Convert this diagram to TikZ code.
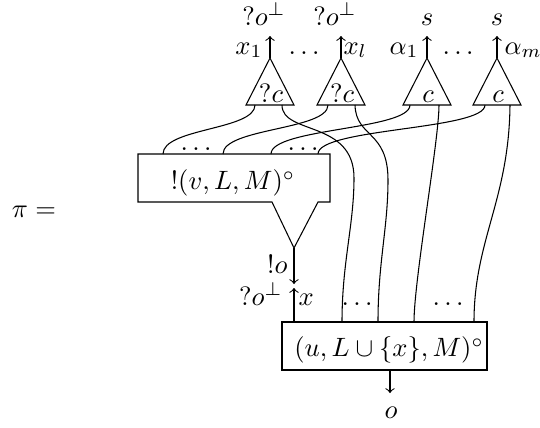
\documentclass[tikz,border=0pt]{standalone}
\usepackage{amssymb}
\begin{document}
\begin{tikzpicture}[x=0.377pt,y=-0.377pt,line width=0.4pt,
  lbl/.style={inner sep=0pt,anchor=base},
  lble/.style={inner sep=0pt,anchor=base east},
  lblw/.style={inner sep=0pt,anchor=base west},
  wire/.style={draw},
  arr/.style={->}]
\useasboundingbox (0,0) rectangle (540,427);
% left
\node[inner sep=0pt] (pi) at (34,212) {$\pi =$};
% top triangles
\foreach \n/\cx/\lab in {1/270/?c,2/341/?c,3/427/c,4/497/c}{
  \coordinate (a\n) at (\cx,58);
  \coordinate (tip\n) at (\cx,36);
  \draw (a\n) -- (\cx-24,105) -- (\cx+24,105) -- cycle;
  \node[lbl] (tl\n) at (\cx+1,102) {$\lab$};
  \draw[arr] (a\n) -- (tip\n);
}
\node[lbl] (top1) at (264,25) {$?o^{\perp}$};
\node[lbl] (top2) at (335,25) {$?o^{\perp}$};
\node[lbl] (top3) at (427,25) {$s$};
\node[lbl] (top4) at (497,25) {$s$};
\node[lble] (x1) at (263,54) {$x_1$};
\node[lbl] (d1) at (304,54) {$\ldots$};
\node[lblw] (xl) at (343,54) {$x_l$};
\node[lble] (al1) at (419,54) {$\alpha_1$};
\node[lbl] (d2) at (458,54) {$\ldots$};
\node[lblw] (alm) at (504,54) {$\alpha_m$};
% wire ends at triangles
\coordinate (t1l) at (255,105); \coordinate (t1r) at (282,105);
\coordinate (t2l) at (328,105); \coordinate (t2r) at (355,105);
\coordinate (t3l) at (410,105); \coordinate (t3r) at (439,105);
\coordinate (t4l) at (485,105); \coordinate (t4r) at (510,105);
% promotion box
\draw (138,154) -- (330,154) -- (330,202) -- (318,202) -- (294,248) -- (272,202) -- (138,202) -- cycle;
\node[inner sep=0pt] (bang) at (233,183) {$!(v,L,M)^\circ$};
\coordinate (b1) at (163,154); \coordinate (b2) at (223,154);
\coordinate (b3) at (271,154); \coordinate (b4) at (318,154);
\node[lbl] (d3) at (196,150) {$\ldots$};
\node[lbl] (d4) at (303,150) {$\ldots$};
\coordinate (bo) at (294,248);
% bottom box
\draw (282,322) rectangle (487,370);
\node[inner sep=0pt] (main) at (389,350) {$(u,L\cup\{x\},M)^\circ$};
\coordinate (c0) at (294,322); \coordinate (c1) at (342,322);
\coordinate (c2) at (378,322); \coordinate (c3) at (414,322);
\coordinate (c4) at (474,322);
\coordinate (out) at (390,370); \coordinate (outtip) at (390,393);
\node[lbl] (d5) at (357,305) {$\ldots$};
\node[lbl] (d6) at (448,305) {$\ldots$};
% left wires
\draw (t1l) .. controls (255,130) and (163,128) .. (b1);
\draw (t2l) .. controls (328,130) and (223,128) .. (b2);
\draw (t3l) .. controls (410,130) and (271,128) .. (b3);
\draw (t4l) .. controls (485,130) and (318,128) .. (b4);
% right wires
\draw (t1r) .. controls (282,135) and (354,120) .. (354,178) .. controls (354,225) and (342,262) .. (c1);
\draw (t2r) .. controls (356,138) and (388,130) .. (388,180) .. controls (388,228) and (378,262) .. (c2);
\draw (t3r) .. controls (439,140) and (414,280) .. (c3);
\draw (t4r) .. controls (509,200) and (474,240) .. (c4);
% cut wire
\coordinate (m1) at (294,284); \coordinate (m2) at (294,288);
\draw[arr] (bo) -- (m1);
\draw[arr] (c0) -- (m2);
\node[lble] (bango) at (288,273) {$!o$};
\node[lble] (qo) at (283,305) {$?o^{\perp}$};
\node[lblw] (xx) at (298,305) {$x$};
% output
\draw[arr] (out) -- (outtip);
\node[lbl] (o) at (391,418) {$o$};
\end{tikzpicture}
\end{document}
